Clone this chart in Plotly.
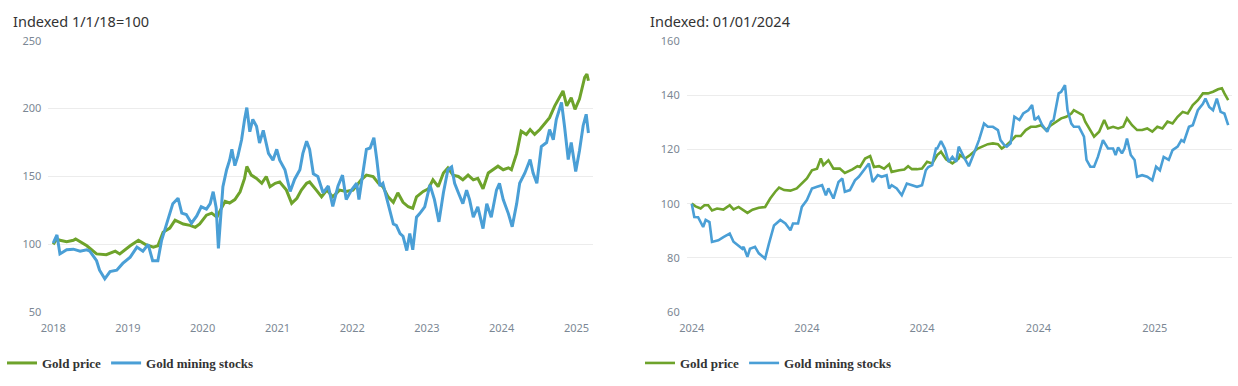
import pandas as pd
import plotly.graph_objects as go

# ---------------- Left chart: indexed 1/1/18 = 100 (decimal years) ----------------
left_gold_t = [2018.00, 2018.05, 2018.09, 2018.18, 2018.27, 2018.30, 2018.45, 2018.58, 2018.71, 2018.83,
               2018.89, 2019.03, 2019.14, 2019.23, 2019.34, 2019.40, 2019.47, 2019.56, 2019.63, 2019.74,
               2019.83, 2019.90, 2019.96, 2020.05, 2020.12, 2020.19, 2020.23, 2020.30, 2020.36, 2020.43,
               2020.50, 2020.56, 2020.59, 2020.65, 2020.72, 2020.79, 2020.85, 2020.90, 2020.97, 2021.03,
               2021.12, 2021.19, 2021.26, 2021.32, 2021.39, 2021.43, 2021.52, 2021.59, 2021.66, 2021.74,
               2021.83, 2021.92, 2022.01, 2022.12, 2022.19, 2022.28, 2022.35, 2022.41, 2022.48, 2022.55,
               2022.61, 2022.68, 2022.75, 2022.81, 2022.86, 2022.95, 2023.02, 2023.08, 2023.15, 2023.22,
               2023.28, 2023.35, 2023.42, 2023.48, 2023.55, 2023.62, 2023.68, 2023.75, 2023.82, 2023.88,
               2023.95, 2024.02, 2024.09, 2024.13, 2024.20, 2024.26, 2024.33, 2024.38, 2024.44, 2024.51,
               2024.58, 2024.64, 2024.71, 2024.75, 2024.82, 2024.87, 2024.93, 2024.98, 2025.04, 2025.11,
               2025.14, 2025.16]
left_gold_v = [100, 104, 103, 102, 103, 104, 99, 93, 92.4, 95,
               93, 99, 103, 100, 98, 99, 109, 112, 117.8, 115,
               114, 112.6, 115, 121.5, 123, 120, 124.5, 131.7, 130.5, 133,
               138.8, 148.6, 157.4, 151, 148.6, 145, 150, 142.5, 145, 146,
               140, 130.2, 134, 140, 145, 146, 140, 135, 140, 135,
               140, 139, 140, 147.5, 151, 150, 145, 142.5, 135, 131,
               138, 131, 127.7, 126.5, 135, 139, 141, 147.5, 142.5, 152.6,
               156.4, 151, 150, 147.5, 151, 147.5, 148.6, 141, 152.6, 155,
               157.6, 155, 156.4, 155, 167, 183.4, 181, 184.6, 181, 184.6,
               189.5, 193.3, 202, 205.7, 213, 202, 208, 199.4, 207, 223,
               225.5, 220.5]

left_mining_t = [2018.00, 2018.05, 2018.09, 2018.18, 2018.27, 2018.36, 2018.45, 2018.49, 2018.58, 2018.62,
                 2018.69, 2018.76, 2018.85, 2018.93, 2019.03, 2019.12, 2019.20, 2019.27, 2019.33, 2019.40,
                 2019.45, 2019.52, 2019.56, 2019.60, 2019.67, 2019.72, 2019.78, 2019.85, 2019.92, 2019.98,
                 2020.05, 2020.10, 2020.14, 2020.18, 2020.21, 2020.24, 2020.27, 2020.32, 2020.36, 2020.39,
                 2020.43, 2020.47, 2020.52, 2020.56, 2020.59, 2020.63, 2020.67, 2020.72, 2020.76, 2020.81,
                 2020.85, 2020.88, 2020.94, 2020.99, 2021.03, 2021.10, 2021.17, 2021.23, 2021.30, 2021.34,
                 2021.39, 2021.43, 2021.48, 2021.54, 2021.61, 2021.68, 2021.74, 2021.81, 2021.87, 2021.92,
                 2021.99, 2022.06, 2022.09, 2022.15, 2022.19, 2022.24, 2022.29, 2022.33, 2022.37, 2022.41,
                 2022.46, 2022.50, 2022.55, 2022.59, 2022.64, 2022.68, 2022.73, 2022.77, 2022.81, 2022.86,
                 2022.90, 2022.97, 2023.04, 2023.10, 2023.16, 2023.22, 2023.28, 2023.33, 2023.37, 2023.42,
                 2023.48, 2023.53, 2023.57, 2023.62, 2023.68, 2023.75, 2023.80, 2023.86, 2023.93, 2023.97,
                 2024.02, 2024.09, 2024.14, 2024.20, 2024.24, 2024.31, 2024.38, 2024.42, 2024.47, 2024.53,
                 2024.60, 2024.64, 2024.69, 2024.73, 2024.80, 2024.84, 2024.89, 2024.93, 2024.99, 2025.04,
                 2025.09, 2025.13, 2025.16]
left_mining_v = [101, 107, 93, 96, 96.5, 95, 96, 95, 88, 81,
                 74.6, 80, 81, 86, 90.6, 98, 95, 100, 88, 88,
                 103, 115.6, 121.5, 130, 134, 123, 122, 115.6, 121, 127.7,
                 126, 130, 138.8, 127, 97, 118, 142.5, 155, 162, 170,
                 158, 165, 177, 192, 200.7, 183, 192, 187, 174.7, 184,
                 175, 167, 162, 170, 162, 155, 139, 148, 155, 167,
                 176, 170, 152, 150, 138, 143, 128, 143, 151, 133,
                 140, 145, 133, 155, 170, 171, 178.5, 162, 143, 145,
                 135, 125, 115, 114, 108, 106, 95.5, 108, 96, 120,
                 122.5, 127.7, 143.8, 133, 116.6, 138, 155, 157, 145, 138,
                 130, 140, 133, 120, 127.7, 111.6, 130, 120, 140, 145,
                 133, 122.5, 113, 130, 145, 152.6, 162.5, 152.6, 145, 172,
                 175, 184.6, 177, 192, 204.5, 187, 162.5, 175, 153.7, 169,
                 187.6, 195.8, 182]

left_years = [2018, 2019, 2020, 2021, 2022, 2023, 2024, 2025]
left_yticks = [50, 100, 150, 200, 250]

# ---------------- Right chart: indexed 01/01/2024 = 100 (days since 2024-01-01) ----------------
right_gold_d = [0, 3, 7, 10, 13, 16, 20, 25, 30, 33, 37, 40, 44, 48, 53, 58, 62, 66, 69, 73,
                78, 83, 87, 91, 95, 99, 102, 104, 108, 112, 117, 121, 127, 131, 133, 137, 141, 144, 148, 152,
                156, 158, 164, 168, 171, 174, 178, 182, 186, 190, 194, 197, 201, 206, 211, 212, 216, 220, 226, 230,
                234, 238, 242, 245, 249, 253, 256, 260, 264, 268, 272, 276, 280, 284, 288, 292, 296, 300, 302, 306,
                309, 311, 315, 318, 322, 326, 329, 333, 337, 341, 344, 348, 352, 356, 360, 364, 368, 372, 376, 380,
                384, 388, 392, 396, 400, 404, 408, 412, 416, 419, 421, 424]
right_gold_v = [100, 99, 98.2, 99.4, 99.4, 97.5, 98.2, 97.8, 99.4, 97.9, 98.8, 97.9, 96.6, 97.8, 98.5, 98.8, 101.9, 104.4, 105.9, 105,
                104.8, 105.6, 107.4, 109.3, 112.3, 112.9, 116.6, 114.2, 116, 112.9, 112.9, 111.3, 112.6, 113.8, 113.5, 116.6, 117.5, 113.5, 113.8, 112.9,
                114.5, 111.7, 112.3, 112.6, 113.8, 112.7, 112.7, 112.9, 115.4, 114.8, 117.9, 119.1, 116.3, 114.8, 116.6, 117.9, 116.6, 117.9, 120.3, 121.2,
                121.9, 122.2, 121.9, 120.3, 121.6, 123.4, 124.9, 124.9, 127.1, 128.3, 128.3, 128.9, 127.1, 128.9, 130.2, 131.4, 132, 133.2, 134.4, 133.2,
                132.6, 130.2, 127.1, 124.7, 126.5, 130.8, 127.7, 128.3, 127.7, 128.3, 131.4, 128.9, 127.1, 127.1, 127.7, 126.5, 128.3, 127.7, 130.2, 129.5,
                132, 133.8, 133.2, 136.3, 138.1, 140.6, 140.6, 141.2, 142.1, 142.5, 140.6, 138.1]

right_mining_d = [0, 2, 5, 8, 9, 11, 14, 16, 21, 25, 30, 33, 37, 40, 41, 44, 46, 50, 53, 58,
                  61, 65, 70, 74, 78, 80, 84, 87, 91, 95, 99, 103, 106, 108, 112, 116, 119, 121, 125, 129,
                  132, 136, 140, 143, 147, 150, 154, 156, 158, 162, 166, 170, 174, 178, 182, 185, 187, 190, 193, 194,
                  197, 200, 203, 206, 209, 211, 215, 219, 223, 227, 231, 234, 238, 242, 244, 247, 249, 252, 255, 259,
                  262, 266, 269, 271, 274, 277, 281, 284, 286, 290, 292, 295, 297, 300, 302, 306, 310, 312, 315, 318,
                  321, 325, 329, 333, 335, 337, 340, 342, 344, 347, 350, 352, 356, 360, 364, 367, 370, 373, 377, 380,
                  384, 387, 389, 393, 396, 400, 404, 406, 409, 412, 415, 418, 421, 424]
right_mining_v = [100, 95.1, 95, 92.7, 91.4, 94, 93.2, 85.9, 86.5, 87.7, 89, 86, 84.7, 83.4, 84.1, 80.4, 83.4, 84.1, 81.7, 79.8,
                  85.3, 92, 94, 92.7, 90.2, 92.7, 92.7, 98.8, 101.3, 105.6, 106.2, 106.8, 103.1, 105.6, 101.9, 108, 109.3, 104.4, 105, 108.6,
                  109.9, 112.3, 114.8, 108, 110.5, 109.9, 110.5, 105.6, 106.8, 105.6, 103.1, 107.4, 106.8, 106.2, 106.8, 112.3, 113.5, 114.2, 120.3, 120.3,
                  123, 120.3, 115.4, 117.2, 115.4, 121, 117.2, 113.8, 118.5, 123.4, 129.5, 128.3, 128.3, 127.1, 123.4, 121.6, 121, 122.2, 132, 130.8,
                  133.2, 134.4, 136.3, 130.8, 132, 128.9, 126.5, 130.2, 130.8, 140.6, 141.2, 143.6, 134.4, 129.5, 128.3, 128.3, 124.7, 116.1, 113.6, 113.6,
                  117.2, 123.4, 120.3, 120.3, 117.9, 120.7, 118.5, 120.3, 124, 117.9, 116.1, 109.9, 110.5, 109.9, 108.6, 113.6, 112.3, 117.2, 116.1, 119.7,
                  121, 123.4, 122.8, 128.3, 128.9, 134.4, 136.8, 138.7, 135.6, 134.4, 138.7, 133.8, 133.2, 128.9]

right_ticks = ["2024-01-01", "2024-04-01", "2024-07-01", "2024-10-01", "2025-01-01"]
right_yticks = [60, 80, 100, 120, 140, 160]

GREEN = "#6ea32b"
BLUE = "#4a9fd6"
TICK_COL = "#7b8794"
GRID_COL = "#ececec"


def from_decimal_years(vals):
    base = pd.Timestamp("2018-01-01")
    return [base + pd.to_timedelta((v - 2018) * 365.25, unit="D") for v in vals]


def from_days(vals):
    base = pd.Timestamp("2024-01-01")
    return [base + pd.to_timedelta(v, unit="D") for v in vals]


fig = go.Figure()

fig.add_trace(go.Scatter(x=from_decimal_years(left_gold_t), y=left_gold_v, mode="lines",
                         name="Gold price", line=dict(color=GREEN, width=3),
                         xaxis="x", yaxis="y", legend="legend"))
fig.add_trace(go.Scatter(x=from_decimal_years(left_mining_t), y=left_mining_v, mode="lines",
                         name="Gold mining stocks", line=dict(color=BLUE, width=3),
                         xaxis="x", yaxis="y", legend="legend"))
fig.add_trace(go.Scatter(x=from_days(right_gold_d), y=right_gold_v, mode="lines",
                         name="Gold price", line=dict(color=GREEN, width=2.6),
                         xaxis="x2", yaxis="y2", legend="legend2"))
fig.add_trace(go.Scatter(x=from_days(right_mining_d), y=right_mining_v, mode="lines",
                         name="Gold mining stocks", line=dict(color=BLUE, width=2.6),
                         xaxis="x2", yaxis="y2", legend="legend2"))

W, H = 1238, 386


def px(x):
    return x / W


def py(y):
    return 1 - y / H


tick_font = dict(family="Noto Sans, sans-serif", size=11, color=TICK_COL)
legend_font = dict(family="Liberation Serif, serif", size=13, color="#333333", weight="bold")

fig.update_layout(
    width=W, height=H,
    margin=dict(l=0, r=0, t=0, b=0, pad=0, autoexpand=False),
    paper_bgcolor="white", plot_bgcolor="white",
    showlegend=True,
    xaxis=dict(domain=[px(48.3), px(593.3)], anchor="y", type="date",
               range=["2017-12-08", "2025-03-24"],
               tickvals=[f"{y}-01-01" for y in left_years], tickformat="%Y",
               showgrid=False, showline=False, zeroline=False, ticks="", automargin=False,
               ticklabelstandoff=8, tickfont=tick_font),
    yaxis=dict(domain=[py(312.3), py(40.7)], anchor="x", range=[50, 250],
               tickvals=left_yticks, showgrid=True, gridcolor=GRID_COL, gridwidth=1, automargin=False,
               zeroline=False, showline=False, ticks="", ticklabelstandoff=6, tickfont=tick_font),
    xaxis2=dict(domain=[px(686.7), px(1232)], anchor="y2", type="date",
                range=["2023-12-28", "2025-03-03"],
                tickvals=right_ticks, tickformat="%Y", automargin=False,
                showgrid=False, showline=False, zeroline=False, ticks="",
                ticklabelstandoff=8, tickfont=tick_font),
    yaxis2=dict(domain=[py(312.3), py(40.7)], anchor="x2", range=[60, 160],
                tickvals=right_yticks, showgrid=True, gridcolor=GRID_COL, gridwidth=1, automargin=False,
                zeroline=False, showline=False, ticks="", ticklabelstandoff=6, tickfont=tick_font),
    legend=dict(orientation="h", x=px(2), y=py(363), xanchor="left", yanchor="middle",
                font=legend_font, bgcolor="rgba(0,0,0,0)", itemwidth=30),
    legend2=dict(orientation="h", x=px(640), y=py(363), xanchor="left", yanchor="middle",
                 font=legend_font, bgcolor="rgba(0,0,0,0)", itemwidth=30),
    annotations=[
        dict(text="Indexed 1/1/18=100", xref="paper", yref="paper", x=px(11), y=py(21),
             xanchor="left", yanchor="middle", showarrow=False,
             font=dict(family="Noto Sans, sans-serif", size=14.5, color="#333333")),
        dict(text="Indexed: 01/01/2024", xref="paper", yref="paper", x=px(648), y=py(21),
             xanchor="left", yanchor="middle", showarrow=False,
             font=dict(family="Noto Sans, sans-serif", size=14.5, color="#333333")),
    ],
)

fig.write_html("out.html", config={"displayModeBar": False},
               post_script="document.body.style.margin='0';document.body.style.overflow='hidden';")
